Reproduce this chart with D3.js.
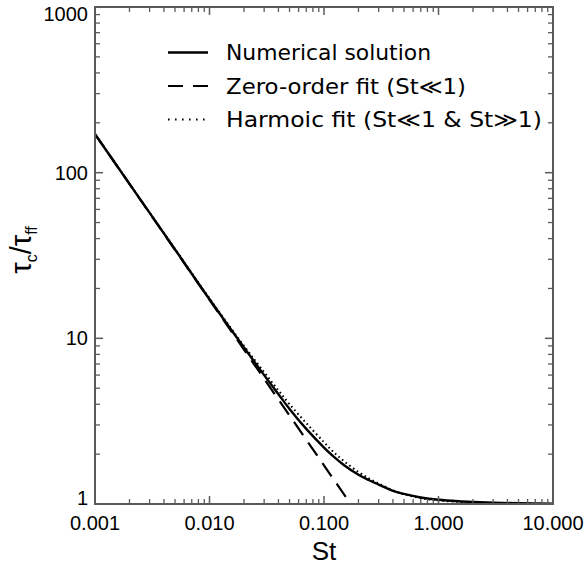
<!DOCTYPE html>
<html>
<head>
<meta charset="utf-8">
<script src="https://cdn.jsdelivr.net/npm/d3@7"></script>
<style>
  body { margin: 0; background: #fff; }
  svg { display: block; }
</style>
</head>
<body>
<svg id="chart" width="586" height="568"></svg>
<script>
// Data
const stValues = [0.001, 0.002, 0.005, 0.01, 0.02, 0.03, 0.04, 0.05, 0.07, 0.1, 0.12, 0.15, 0.2, 0.25, 0.3, 0.4, 0.5, 0.7, 1, 1.5, 2, 3, 5, 10];
const numerical = [171, 85.6, 34.4, 17.2, 8.8, 6.0, 4.6, 3.75, 2.84, 2.19, 1.944, 1.713, 1.5, 1.387, 1.31, 1.2, 1.15, 1.095, 1.06, 1.038, 1.028, 1.018, 1.01, 1.005];
const harmonic = [171, 85.8, 34.6, 17.4, 9.0, 6.25, 4.85, 4.0, 3.08, 2.36, 2.07, 1.81, 1.56, 1.42, 1.33, 1.21, 1.145, 1.085, 1.05, 1.03, 1.02, 1.012, 1.006, 1.003];
const zeroOrderSt = [0.001, 0.171];
const zeroOrder = [171, 1.0];

const xTicks = [0.001, 0.01, 0.1, 1, 10];
const xTickLabels = ['0.001', '0.010', '0.100', '1.000', '10.000'];
const yTicks = [1, 10, 100, 1000];
const yTickLabels = ['1', '10', '100', '1000'];

const legendLabels = ['Numerical solution', 'Zero-order fit (St\u226A1)', 'Harmoic fit (St\u226A1 & St\u226B1)'];

// Layout
const plotLeft = 95, plotRight = 553, plotTop = 7, plotBottom = 504;
const axisColor = '#5a5a5a';

const svg = d3.select('#chart');

const x = d3.scaleLog().domain([0.001, 10]).range([plotLeft, plotRight]);
const y = d3.scaleLog().domain([1, 1000]).range([plotBottom, plotTop]);

// minor ticks for each decade
function minorTicks(lo, hi) {
  const out = [];
  for (let d = lo; d < hi; d *= 10) {
    for (let k = 2; k <= 9; k++) out.push(d * k);
  }
  return out;
}
const xMinor = minorTicks(0.001, 10);
const yMinor = minorTicks(1, 1000);

svg.append('clipPath').attr('id', 'plot-clip')
  .append('rect')
  .attr('x', plotLeft).attr('y', plotTop)
  .attr('width', plotRight - plotLeft).attr('height', plotBottom - plotTop);

// Curves
const line = d3.line()
  .x(d => x(d[0]))
  .y(d => y(d[1]))
  .curve(d3.curveCatmullRom.alpha(0.5));

const curves = svg.append('g').attr('clip-path', 'url(#plot-clip)');

curves.append('path')
  .datum(zeroOrderSt.map((s, i) => [s, zeroOrder[i]]))
  .attr('d', line)
  .attr('fill', 'none')
  .attr('stroke', '#000')
  .attr('stroke-width', 2.2)
  .attr('stroke-dasharray', '16,9');

curves.append('path')
  .datum(stValues.map((s, i) => [s, harmonic[i]]))
  .attr('d', line)
  .attr('fill', 'none')
  .attr('stroke', '#000')
  .attr('stroke-width', 2)
  .attr('stroke-dasharray', '1.6,3');

curves.append('path')
  .datum(stValues.map((s, i) => [s, numerical[i]]))
  .attr('d', line)
  .attr('fill', 'none')
  .attr('stroke', '#000')
  .attr('stroke-width', 2.4);

// Axes: frame with inward ticks on all four sides
const axisG = svg.append('g').attr('stroke', axisColor);

function drawXTicks(vals, len, width) {
  vals.forEach(v => {
    const px = x(v);
    axisG.append('line').attr('x1', px).attr('x2', px).attr('y1', plotBottom).attr('y2', plotBottom - len).attr('stroke-width', width);
    axisG.append('line').attr('x1', px).attr('x2', px).attr('y1', plotTop).attr('y2', plotTop + len).attr('stroke-width', width);
  });
}
function drawYTicks(vals, len, width) {
  vals.forEach(v => {
    const py = y(v);
    axisG.append('line').attr('x1', plotLeft).attr('x2', plotLeft + len).attr('y1', py).attr('y2', py).attr('stroke-width', width);
    axisG.append('line').attr('x1', plotRight).attr('x2', plotRight - len).attr('y1', py).attr('y2', py).attr('stroke-width', width);
  });
}
drawXTicks(xMinor, 5, 1.3);
drawXTicks(xTicks, 8, 1.5);
drawYTicks(yMinor, 5, 1.3);
drawYTicks(yTicks, 8, 1.5);

axisG.append('rect')
  .attr('x', plotLeft).attr('y', plotTop)
  .attr('width', plotRight - plotLeft).attr('height', plotBottom - plotTop)
  .attr('fill', 'none')
  .attr('stroke-width', 2);

// Tick labels
const tickFont = '"Liberation Sans", Arial, sans-serif';

svg.append('g').selectAll('text')
  .data(xTicks)
  .join('text')
  .attr('x', d => x(d))
  .attr('y', 530)
  .attr('text-anchor', 'middle')
  .attr('font-family', tickFont)
  .attr('font-size', 20)
  .text((d, i) => xTickLabels[i]);

svg.append('g').selectAll('text')
  .data(yTicks)
  .join('text')
  .attr('x', plotLeft - 7)
  .attr('y', d => Math.min(Math.max(y(d), plotTop + 7), plotBottom - 6))
  .attr('dy', '0.35em')
  .attr('text-anchor', 'end')
  .attr('font-family', tickFont)
  .attr('font-size', 20)
  .text((d, i) => yTickLabels[i]);

// Axis titles
svg.append('text')
  .attr('x', (plotLeft + plotRight) / 2)
  .attr('y', 560)
  .attr('text-anchor', 'middle')
  .attr('font-family', tickFont)
  .attr('font-size', 26)
  .text('St');

const yTitle = svg.append('text')
  .attr('transform', 'translate(31,250) rotate(-90)')
  .attr('text-anchor', 'middle')
  .attr('font-family', tickFont)
  .attr('font-size', 29);
yTitle.append('tspan').text('\u03C4');
yTitle.append('tspan').attr('font-size', 16).attr('dy', 6).text('c');
yTitle.append('tspan').attr('dy', -6).text('/\u03C4');
yTitle.append('tspan').attr('font-size', 16).attr('dy', 6).text('ff');

// Legend
const legendStyles = [
  { dash: null, width: 2.4, textWidth: 205 },
  { dash: '15,10', width: 2.2, textWidth: 240 },
  { dash: '1.6,5.4', width: 2, textWidth: 316 }
];
const legend = svg.append('g');
legendLabels.forEach((label, i) => {
  const rowY = 60 + i * 33.5;
  legend.append('line')
    .attr('x1', 168).attr('x2', 208)
    .attr('y1', rowY - 7.5).attr('y2', rowY - 7.5)
    .attr('stroke', '#000')
    .attr('stroke-width', legendStyles[i].width)
    .attr('stroke-dasharray', legendStyles[i].dash);
  legend.append('text')
    .attr('x', 226)
    .attr('y', rowY)
    .attr('font-family', '"DejaVu Sans", Verdana, sans-serif')
    .attr('font-size', 21)
    .attr('textLength', legendStyles[i].textWidth)
    .attr('lengthAdjust', 'spacingAndGlyphs')
    .text(label);
});
</script>
</body>
</html>
